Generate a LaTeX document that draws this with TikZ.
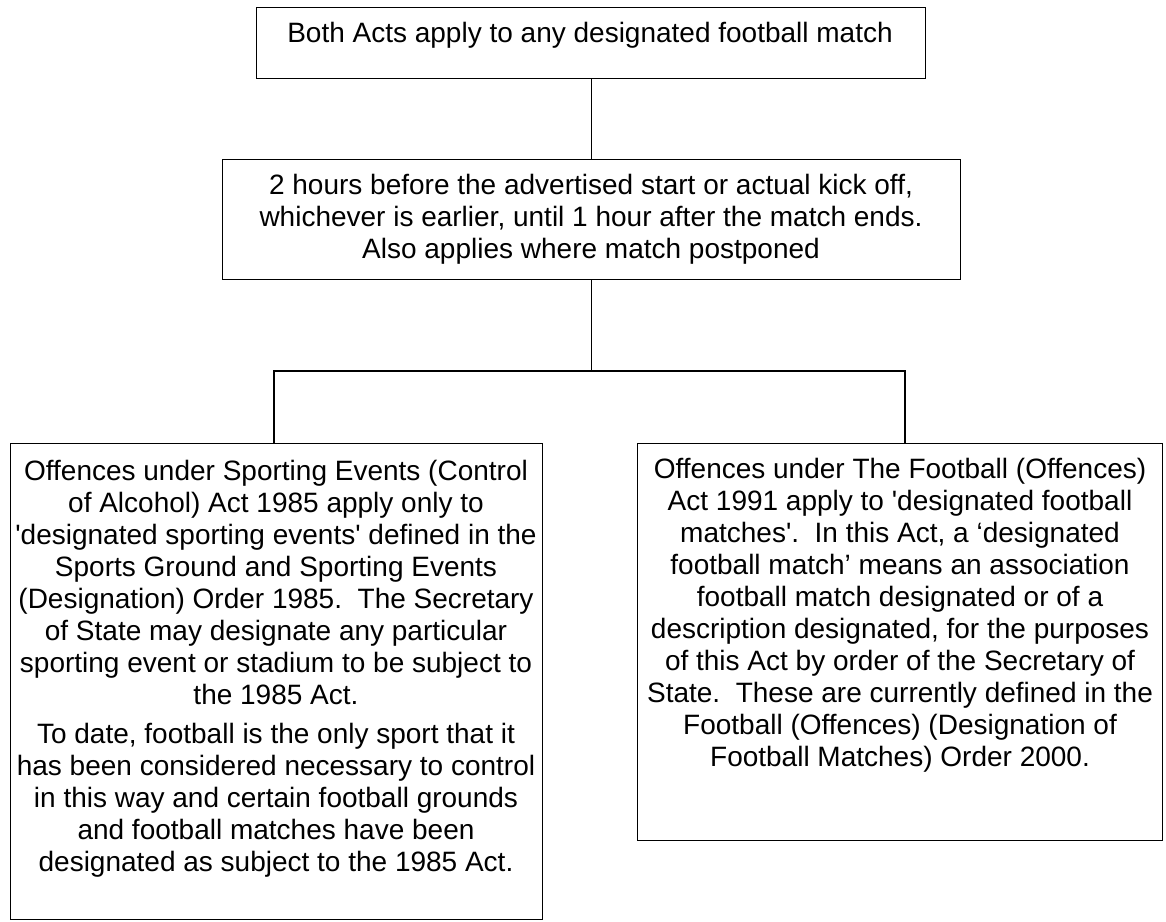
\documentclass[tikz,border=0pt]{standalone}
\usepackage{fontspec}
\newfontfamily\arial{Liberation Sans}
\newcommand\mystrut{\rule{0pt}{16.5pt}}
\frenchspacing
\begin{document}
\begin{tikzpicture}[x=0.75pt,y=-0.75pt,
  box/.style={draw=black, line width=1pt, rectangle, inner sep=0pt, anchor=north west},
  txt/.style={anchor=north, inner sep=0pt, align=center, font=\arial\fontsize{21}{24}\selectfont},
  link/.style={draw=black, line width=1pt}]
\useasboundingbox (0,0) rectangle (1166,921);
% boxes
\node[box, minimum width=669*0.75pt, minimum height=71*0.75pt] (b1) at (256,7) {};
\node[box, minimum width=738*0.75pt, minimum height=120*0.75pt] (b2) at (222,159) {};
\node[box, minimum width=532*0.75pt, minimum height=476*0.75pt] (bl) at (10,443) {};
\node[box, minimum width=525*0.75pt, minimum height=397*0.75pt] (br) at (637,443) {};
% texts
\node[txt] (t1) at (590,20)
  {\mystrut Both Acts apply to any designated football match};
\node[txt] (t2) at (591,172)
  {\mystrut 2 hours before the advertised start or actual kick off,\\
   whichever is earlier, until 1 hour after the match ends.\\
   Also applies where match postponed};
\node[txt] (tl) at (276,458)
  {\mystrut Offences under Sporting Events (Control\\
   of Alcohol) Act 1985 apply only to\\
   'designated sporting events' defined in the\\
   Sports Ground and Sporting Events\\
   (Designation) Order 1985.~ The Secretary\\
   of State may designate any particular\\
   sporting event or stadium to be subject to\\
   the 1985 Act.\\[5.25pt]
   To date, football is the only sport that it\\
   has been considered necessary to control\\
   in this way and certain football grounds\\
   and football matches have been\\
   designated as subject to the 1985 Act.};
\node[txt] (tr) at (900,456)
  {\mystrut Offences under The Football (Offences)\\
   Act 1991 apply to 'designated football\\
   matches'.~ In this Act, a ‘designated\\
   football match’ means an association\\
   football match designated or of a\\
   description designated, for the purposes\\
   of this Act by order of the Secretary of\\
   State.~ These are currently defined in the\\
   Football (Offences) (Designation of\\
   Football Matches) Order 2000.};
% connectors
\coordinate (hl) at (274,371);
\coordinate (hr) at (905,371);
\draw[link] (b1.south) -- (b1.south |- b2.north);
\draw[link] (b1.south |- b2.south) -- (b1.south |- hl);
\draw[link] (hl |- bl.north) -- (hl) -- (hr) -- (hr |- br.north);
\end{tikzpicture}
\end{document}
